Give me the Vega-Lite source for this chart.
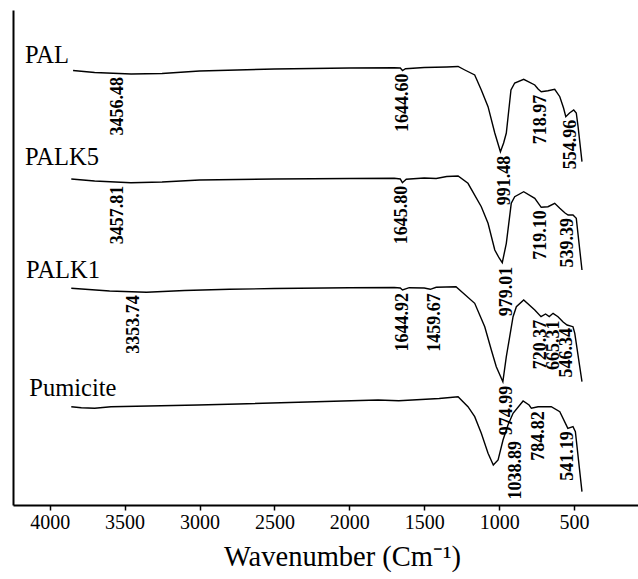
{
  "$schema": "https://vega.github.io/schema/vega-lite/v6.json",
  "width": 625,
  "height": 495,
  "autosize": {"type": "none"},
  "padding": {"left": 13, "top": 10, "right": 0, "bottom": 74},
  "background": "white",
  "config": {
    "view": {"stroke": null},
    "font": "Liberation Serif",
    "text": {"font": "Liberation Serif", "color": "black"},
    "axisX": {
      "domainColor": "black", "domainWidth": 2,
      "tickColor": "black", "tickSize": 5, "tickWidth": 1.5,
      "labelFont": "Liberation Serif", "labelFontSize": 20, "labelColor": "black",
      "labelPadding": 2, "labelFlush": false, "labelOverlap": false,
      "titleFont": "Liberation Serif", "titleFontSize": 28.5, "titleFontWeight": "normal",
      "titleColor": "black", "titleX": 329, "titleY": 60, "titleAlign": "center",
      "titleBaseline": "alphabetic", "grid": false
    },
    "axisY": {
      "domainColor": "black", "domainWidth": 2, "labels": false, "ticks": false,
      "grid": false, "title": null
    }
  },
  "datasets": {
    "spectra": [
      {"sample": "PAL", "wn": 3844, "t": 434.5},
      {"sample": "PAL", "wn": 3700, "t": 432.5},
      {"sample": "PAL", "wn": 3456.48, "t": 431, "peak": true},
      {"sample": "PAL", "wn": 3250, "t": 431.5},
      {"sample": "PAL", "wn": 3000, "t": 434},
      {"sample": "PAL", "wn": 2500, "t": 436},
      {"sample": "PAL", "wn": 2000, "t": 437},
      {"sample": "PAL", "wn": 1700, "t": 437.3},
      {"sample": "PAL", "wn": 1660, "t": 437},
      {"sample": "PAL", "wn": 1644.60, "t": 434.5, "peak": true},
      {"sample": "PAL", "wn": 1625, "t": 436.3},
      {"sample": "PAL", "wn": 1500, "t": 437.5},
      {"sample": "PAL", "wn": 1350, "t": 438},
      {"sample": "PAL", "wn": 1274, "t": 438.5},
      {"sample": "PAL", "wn": 1229, "t": 435},
      {"sample": "PAL", "wn": 1163, "t": 430},
      {"sample": "PAL", "wn": 1119, "t": 415},
      {"sample": "PAL", "wn": 1074, "t": 398.3},
      {"sample": "PAL", "wn": 1029, "t": 372},
      {"sample": "PAL", "wn": 1005, "t": 360},
      {"sample": "PAL", "wn": 991.48, "t": 353.3, "peak": true},
      {"sample": "PAL", "wn": 970, "t": 362},
      {"sample": "PAL", "wn": 952, "t": 372},
      {"sample": "PAL", "wn": 921, "t": 415},
      {"sample": "PAL", "wn": 896, "t": 422},
      {"sample": "PAL", "wn": 836, "t": 425.7},
      {"sample": "PAL", "wn": 762, "t": 420},
      {"sample": "PAL", "wn": 740, "t": 416},
      {"sample": "PAL", "wn": 718.97, "t": 413.3, "peak": true},
      {"sample": "PAL", "wn": 674, "t": 414.3},
      {"sample": "PAL", "wn": 629, "t": 415.7},
      {"sample": "PAL", "wn": 595, "t": 408.3},
      {"sample": "PAL", "wn": 570, "t": 397},
      {"sample": "PAL", "wn": 554.96, "t": 388.3, "peak": true},
      {"sample": "PAL", "wn": 530, "t": 392},
      {"sample": "PAL", "wn": 502, "t": 395},
      {"sample": "PAL", "wn": 485, "t": 392},
      {"sample": "PAL", "wn": 473, "t": 378.3},
      {"sample": "PAL", "wn": 447, "t": 343.3},

      {"sample": "PALK5", "wn": 3856, "t": 326},
      {"sample": "PALK5", "wn": 3700, "t": 324},
      {"sample": "PALK5", "wn": 3457.81, "t": 322.3, "peak": true},
      {"sample": "PALK5", "wn": 3250, "t": 323},
      {"sample": "PALK5", "wn": 3000, "t": 325},
      {"sample": "PALK5", "wn": 2500, "t": 326},
      {"sample": "PALK5", "wn": 2000, "t": 326.5},
      {"sample": "PALK5", "wn": 1700, "t": 326.7},
      {"sample": "PALK5", "wn": 1660, "t": 326},
      {"sample": "PALK5", "wn": 1645.80, "t": 322.3, "peak": true},
      {"sample": "PALK5", "wn": 1620, "t": 325.7},
      {"sample": "PALK5", "wn": 1500, "t": 327},
      {"sample": "PALK5", "wn": 1420, "t": 326.5},
      {"sample": "PALK5", "wn": 1350, "t": 328.5},
      {"sample": "PALK5", "wn": 1274, "t": 329},
      {"sample": "PALK5", "wn": 1208, "t": 321.7},
      {"sample": "PALK5", "wn": 1119, "t": 298.3},
      {"sample": "PALK5", "wn": 1074, "t": 281.7},
      {"sample": "PALK5", "wn": 1029, "t": 255},
      {"sample": "PALK5", "wn": 1000, "t": 247},
      {"sample": "PALK5", "wn": 979.01, "t": 242.3, "peak": true},
      {"sample": "PALK5", "wn": 952, "t": 261.7},
      {"sample": "PALK5", "wn": 919, "t": 301.7},
      {"sample": "PALK5", "wn": 896, "t": 308.3},
      {"sample": "PALK5", "wn": 836, "t": 313.3},
      {"sample": "PALK5", "wn": 762, "t": 306.7},
      {"sample": "PALK5", "wn": 719.10, "t": 297.7, "peak": true},
      {"sample": "PALK5", "wn": 674, "t": 298.3},
      {"sample": "PALK5", "wn": 629, "t": 301.7},
      {"sample": "PALK5", "wn": 595, "t": 296.7},
      {"sample": "PALK5", "wn": 560, "t": 292},
      {"sample": "PALK5", "wn": 539.39, "t": 290, "peak": true},
      {"sample": "PALK5", "wn": 507, "t": 290},
      {"sample": "PALK5", "wn": 485, "t": 286.7},
      {"sample": "PALK5", "wn": 447, "t": 235},

      {"sample": "PALK1", "wn": 3856, "t": 216.7},
      {"sample": "PALK1", "wn": 3600, "t": 214},
      {"sample": "PALK1", "wn": 3353.74, "t": 212.7, "peak": true},
      {"sample": "PALK1", "wn": 3100, "t": 214.5},
      {"sample": "PALK1", "wn": 2800, "t": 215.7},
      {"sample": "PALK1", "wn": 2500, "t": 216.5},
      {"sample": "PALK1", "wn": 2000, "t": 217.2},
      {"sample": "PALK1", "wn": 1700, "t": 217.5},
      {"sample": "PALK1", "wn": 1660, "t": 217},
      {"sample": "PALK1", "wn": 1644.92, "t": 215, "peak": true},
      {"sample": "PALK1", "wn": 1600, "t": 217.3},
      {"sample": "PALK1", "wn": 1500, "t": 217},
      {"sample": "PALK1", "wn": 1459.67, "t": 215.7, "peak": true},
      {"sample": "PALK1", "wn": 1420, "t": 217.7},
      {"sample": "PALK1", "wn": 1288, "t": 218.3},
      {"sample": "PALK1", "wn": 1163, "t": 201.7},
      {"sample": "PALK1", "wn": 1096, "t": 178.3},
      {"sample": "PALK1", "wn": 1052, "t": 155},
      {"sample": "PALK1", "wn": 1019, "t": 138.3},
      {"sample": "PALK1", "wn": 974.99, "t": 123.3, "peak": true},
      {"sample": "PALK1", "wn": 952, "t": 148.3},
      {"sample": "PALK1", "wn": 907, "t": 188.3},
      {"sample": "PALK1", "wn": 885, "t": 198.3},
      {"sample": "PALK1", "wn": 836, "t": 205},
      {"sample": "PALK1", "wn": 762, "t": 195},
      {"sample": "PALK1", "wn": 720.37, "t": 188.3, "peak": true},
      {"sample": "PALK1", "wn": 690, "t": 191},
      {"sample": "PALK1", "wn": 665.31, "t": 188.5, "peak": true},
      {"sample": "PALK1", "wn": 640, "t": 191.7},
      {"sample": "PALK1", "wn": 607, "t": 188.3},
      {"sample": "PALK1", "wn": 573, "t": 183},
      {"sample": "PALK1", "wn": 546.34, "t": 180, "peak": true},
      {"sample": "PALK1", "wn": 507, "t": 178.3},
      {"sample": "PALK1", "wn": 495, "t": 171.7},
      {"sample": "PALK1", "wn": 447, "t": 123.3},

      {"sample": "Pumicite", "wn": 3856, "t": 98.3},
      {"sample": "Pumicite", "wn": 3789, "t": 97.3},
      {"sample": "Pumicite", "wn": 3700, "t": 96.7},
      {"sample": "Pumicite", "wn": 3591, "t": 98.3},
      {"sample": "Pumicite", "wn": 3257, "t": 99.3},
      {"sample": "Pumicite", "wn": 3010, "t": 100},
      {"sample": "Pumicite", "wn": 2743, "t": 101},
      {"sample": "Pumicite", "wn": 1808, "t": 105},
      {"sample": "Pumicite", "wn": 1670, "t": 104.3},
      {"sample": "Pumicite", "wn": 1400, "t": 106.5},
      {"sample": "Pumicite", "wn": 1274, "t": 108.3},
      {"sample": "Pumicite", "wn": 1208, "t": 98.3},
      {"sample": "Pumicite", "wn": 1163, "t": 88.3},
      {"sample": "Pumicite", "wn": 1119, "t": 71.7},
      {"sample": "Pumicite", "wn": 1074, "t": 51.7},
      {"sample": "Pumicite", "wn": 1038.89, "t": 40, "peak": true},
      {"sample": "Pumicite", "wn": 1007, "t": 45},
      {"sample": "Pumicite", "wn": 974, "t": 65},
      {"sample": "Pumicite", "wn": 941, "t": 80},
      {"sample": "Pumicite", "wn": 907, "t": 91.7},
      {"sample": "Pumicite", "wn": 840, "t": 104},
      {"sample": "Pumicite", "wn": 800, "t": 100},
      {"sample": "Pumicite", "wn": 784.82, "t": 96.7, "peak": true},
      {"sample": "Pumicite", "wn": 740, "t": 98.3},
      {"sample": "Pumicite", "wn": 652, "t": 98.3},
      {"sample": "Pumicite", "wn": 595, "t": 93.3},
      {"sample": "Pumicite", "wn": 541.19, "t": 76.7, "peak": true},
      {"sample": "Pumicite", "wn": 507, "t": 78.3},
      {"sample": "Pumicite", "wn": 491, "t": 73.3},
      {"sample": "Pumicite", "wn": 447, "t": 13.3}
    ],
    "names": [
      {"sample": "PAL", "wn": 4165, "t": 442},
      {"sample": "PALK5", "wn": 4165, "t": 340},
      {"sample": "PALK1", "wn": 4158, "t": 227},
      {"sample": "Pumicite", "wn": 4136, "t": 109}
    ]
  },
  "layer": [
    {
      "encoding": {
        "x": {
          "field": "wn", "type": "quantitative",
          "scale": {"domain": [73, 4245], "reverse": true, "nice": false, "zero": false},
          "axis": {"values": [4000, 3500, 3000, 2500, 2000, 1500, 1000, 500], "format": "d", "title": "Wavenumber (Cm⁻¹)"}
        },
        "y": {"field": "t", "type": "quantitative", "scale": {"domain": [0, 495], "nice": false, "zero": false}, "axis": {"title": null}}
      },
      "layer": [
        {
          "data": {"name": "spectra"},
          "mark": {"type": "line", "color": "black", "strokeWidth": 1.4},
          "encoding": {"detail": {"field": "sample"}}
        },
        {
          "data": {"name": "spectra"},
          "transform": [{"filter": "datum.peak && indexof([1644.6, 1645.8, 1644.92, 719.1, 718.97, 541.19, 720.37, 539.39, 546.34], datum.wn) >= 0"}],
          "mark": {"type": "text", "angle": 270, "align": "right", "baseline": "middle", "dx": -3, "dy": 0, "fontSize": 18, "fontWeight": "bold"},
          "encoding": {"text": {"field": "wn", "type": "quantitative", "format": ".2f"}}
        },
        {
          "data": {"name": "spectra"},
          "transform": [{"filter": "datum.peak && indexof([991.48, 979.01, 974.99, 1459.67, 665.31], datum.wn) >= 0"}],
          "mark": {"type": "text", "angle": 270, "align": "right", "baseline": "middle", "dx": -4, "dy": 4.5, "fontSize": 18, "fontWeight": "bold"},
          "encoding": {"text": {"field": "wn", "type": "quantitative", "format": ".2f"}}
        },
        {
          "data": {"name": "spectra"},
          "transform": [{"filter": "datum.peak && datum.wn == 554.96"}],
          "mark": {"type": "text", "angle": 270, "align": "right", "baseline": "middle", "dx": -3, "dy": 5, "fontSize": 18, "fontWeight": "bold"},
          "encoding": {"text": {"field": "wn", "type": "quantitative", "format": ".2f"}}
        },
        {
          "data": {"name": "spectra"},
          "transform": [{"filter": "datum.peak && datum.wn == 784.82"}],
          "mark": {"type": "text", "angle": 270, "align": "right", "baseline": "middle", "dx": -3, "dy": 8, "fontSize": 18, "fontWeight": "bold"},
          "encoding": {"text": {"field": "wn", "type": "quantitative", "format": ".2f"}}
        },
        {
          "data": {"name": "spectra"},
          "transform": [{"filter": "datum.peak && datum.wn > 3000"}],
          "mark": {"type": "text", "angle": 270, "align": "right", "baseline": "middle", "dx": -3, "dy": -13, "fontSize": 18, "fontWeight": "bold"},
          "encoding": {"text": {"field": "wn", "type": "quantitative", "format": ".2f"}}
        },
        {
          "data": {"name": "spectra"},
          "transform": [{"filter": "datum.peak && datum.wn == 1038.89"}],
          "mark": {"type": "text", "angle": 270, "align": "right", "baseline": "middle", "dx": 24, "dy": 23, "fontSize": 18, "fontWeight": "bold"},
          "encoding": {"text": {"field": "wn", "type": "quantitative", "format": ".2f"}}
        },
        {
          "data": {"name": "names"},
          "mark": {"type": "text", "align": "left", "baseline": "alphabetic", "fontSize": 24.5},
          "encoding": {"text": {"field": "sample"}}
        }
      ]
    },
    {
      "mark": {"type": "rule", "color": "black", "strokeWidth": 2},
      "encoding": {
        "y": {"datum": 495, "type": "quantitative", "scale": {"domain": [0, 495], "nice": false, "zero": false}, "axis": {"title": null}}
      }
    }
  ]
}
